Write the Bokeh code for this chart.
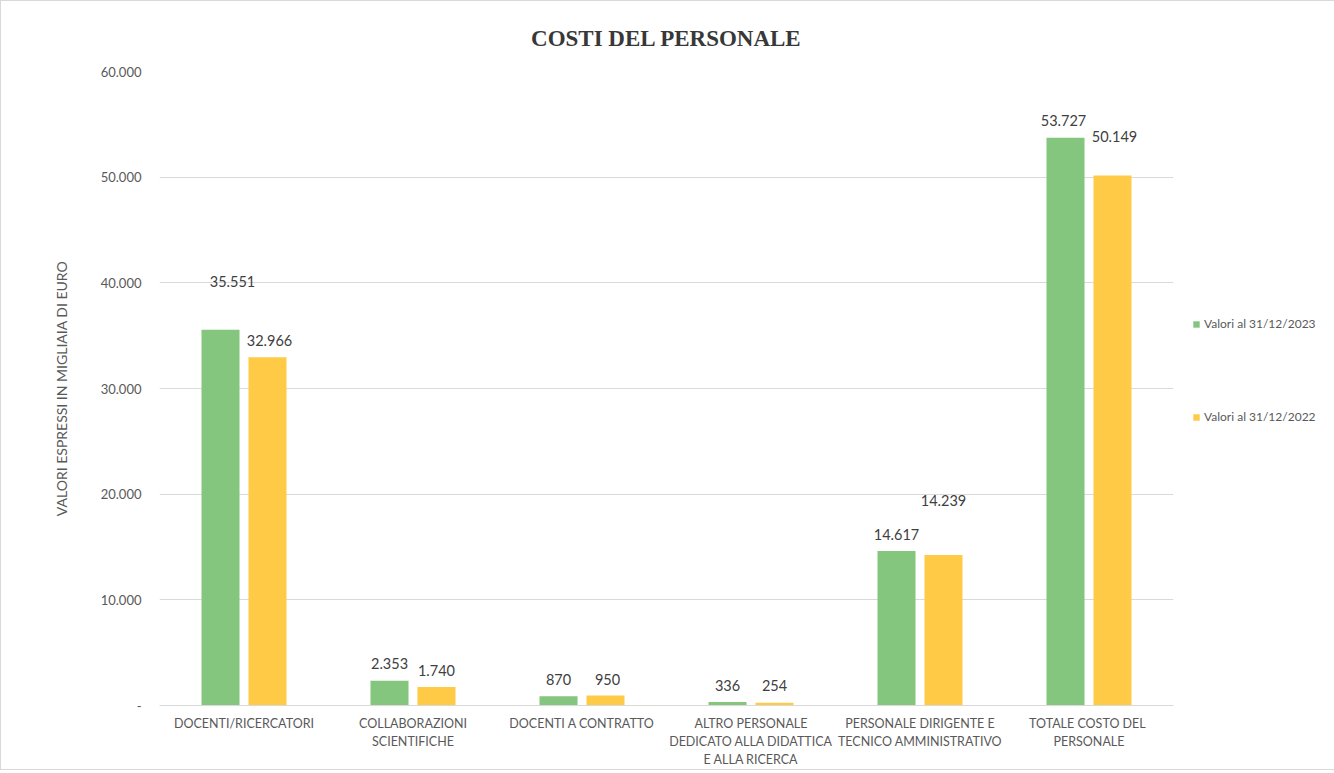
from bokeh.plotting import figure
from bokeh.models import ColumnDataSource, FactorRange, Legend, LegendItem, FixedTicker
from bokeh.core.properties import value
from bokeh.embed import file_html
from bokeh.resources import INLINE
from bokeh.transform import dodge

categories = [
    "DOCENTI/RICERCATORI",
    "COLLABORAZIONI\nSCIENTIFICHE",
    "DOCENTI A CONTRATTO",
    "ALTRO PERSONALE\nDEDICATO ALLA DIDATTICA\nE ALLA RICERCA",
    "PERSONALE DIRIGENTE E\nTECNICO AMMINISTRATIVO",
    "TOTALE  COSTO DEL\nPERSONALE",
]
valori_2023 = [35551, 2353, 870, 336, 14617, 53727]
valori_2022 = [32966, 1740, 950, 254, 14239, 50149]
labels_2023 = ["35.551", "2.353", "870", "336", "14.617", "53.727"]
labels_2022 = ["32.966", "1.740", "950", "254", "14.239", "50.149"]
series_names = ["Valori al 31/12/2023", "Valori al 31/12/2022"]
y_ticks = [0, 10000, 20000, 30000, 40000, 50000, 60000]
y_tick_labels = ["-", "10.000", "20.000", "30.000", "40.000", "50.000", "60.000"]

# label placement offsets (screen px) as in the original
dy_2023 = [-48, -17, -17, -16, -17, -17]
dx_2023 = [12, 0, 0, 0, 0, -2]
dy_2022 = [-17, -17, -16, -17, -55, -39]
dx_2022 = [2, 0, 2, 0, 0, 2]

GREEN = "#85C67E"
YELLOW = "#FFCA46"
FONT = "Lato"

src = ColumnDataSource(dict(
    cat=categories, v23=valori_2023, v22=valori_2022,
    l23=labels_2023, l22=labels_2022,
    dy23=dy_2023, dx23=dx_2023, dy22=dy_2022, dx22=dx_2022,
))

p = figure(
    x_range=FactorRange(*categories, range_padding=0),
    y_range=(0, 60000),
    frame_width=1014, frame_height=634,
    output_backend="svg", toolbar_location=None,
    title="COSTI DEL PERSONALE",
    min_border_left=158, min_border_right=152, min_border_top=70, min_border_bottom=59,
)
p.title.align = "center"
p.title.offset = 12
p.title.text_font = "Liberation Serif"
p.title.text_font_size = "23px"
p.title.text_font_style = "bold"
p.title.text_color = "#383838"
p.title.standoff = 41

r23 = p.vbar(x=dodge("cat", -0.139, range=p.x_range), top="v23", width=0.225,
             source=src, color=GREEN, line_color=None)
r22 = p.vbar(x=dodge("cat", 0.139, range=p.x_range), top="v22", width=0.225,
             source=src, color=YELLOW, line_color=None)

p.text(x=dodge("cat", -0.139, range=p.x_range), y="v23", text="l23", source=src,
       x_offset="dx23", y_offset="dy23", text_align="center", text_baseline="middle",
       text_font=value(FONT), text_font_size="14.5px", text_color="#404040")
p.text(x=dodge("cat", 0.139, range=p.x_range), y="v22", text="l22", source=src,
       x_offset="dx22", y_offset="dy22", text_align="center", text_baseline="middle",
       text_font=value(FONT), text_font_size="14.5px", text_color="#404040")

# axes
p.yaxis.ticker = FixedTicker(ticks=y_ticks)
p.yaxis.major_label_overrides = {t: l for t, l in zip(y_ticks, y_tick_labels)}
p.yaxis.axis_line_color = None
p.yaxis.major_tick_line_color = None
p.yaxis.minor_tick_line_color = None
p.yaxis.major_label_text_font = FONT
p.yaxis.major_label_text_font_size = "13px"
p.yaxis.major_label_text_color = "#595959"
p.yaxis.major_label_standoff = 12
p.yaxis.axis_label = "VALORI ESPRESSI IN MIGLIAIA DI EURO"
p.yaxis.axis_label_text_font = FONT
p.yaxis.axis_label_text_font_size = "14px"
p.yaxis.axis_label_text_font_style = "normal"
p.yaxis.axis_label_text_color = "#595959"
p.yaxis.axis_label_standoff = 28

p.xaxis.axis_line_color = "#d9d9d9"
p.xaxis.major_tick_line_color = None
p.xaxis.minor_tick_line_color = None
p.xaxis.major_label_text_font = FONT
p.xaxis.major_label_text_font_size = "12.5px"
p.xaxis.major_label_text_color = "#595959"
p.xaxis.major_label_standoff = 4

p.xgrid.grid_line_color = None
p.ygrid.grid_line_color = "#d9d9d9"
p.ygrid.grid_line_width = 1
p.outline_line_color = None

legend = Legend(items=[LegendItem(label=series_names[0], renderers=[r23]),
                       LegendItem(label=series_names[1], renderers=[r22])],
                location=(19, 281), spacing=78, padding=0, margin=0,
                glyph_width=8, glyph_height=8, label_standoff=4,
                label_text_font=FONT, label_text_font_size="12px",
                label_text_color="#595959", border_line_color=None,
                background_fill_alpha=0)
p.add_layout(legend, "right")

p.styles = {"border": "1px solid #d9d9d9"}

open("out.html", "w").write(file_html(p, INLINE))
